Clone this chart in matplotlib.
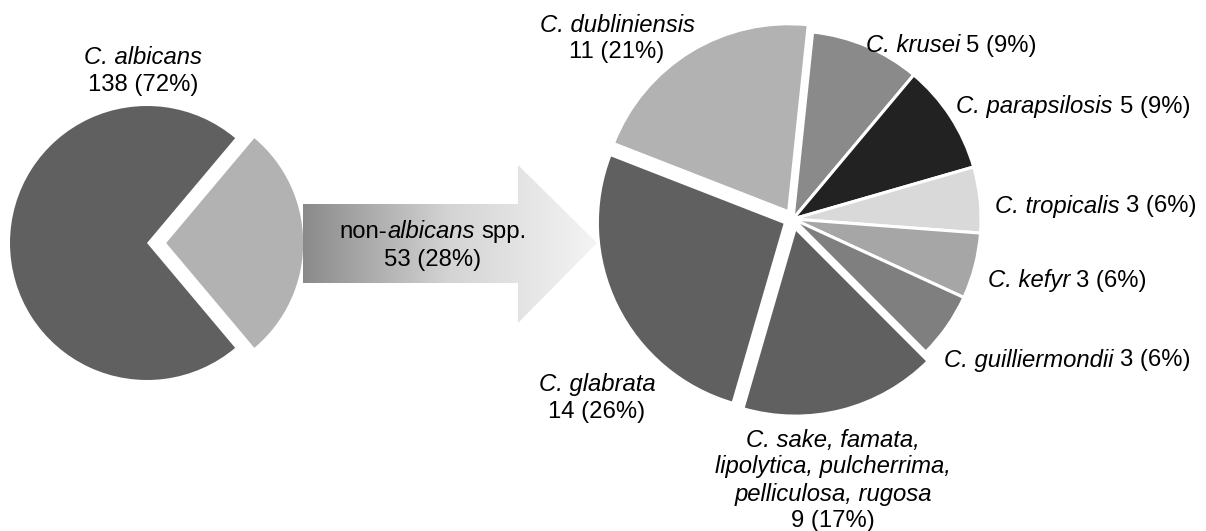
import numpy as np
import matplotlib
matplotlib.use("Agg")
import matplotlib.pyplot as plt
from matplotlib.patches import Polygon
from matplotlib.colors import LinearSegmentedColormap

# ---------------- data ----------------
left_labels = ["C. albicans", "non-albicans spp."]
left_counts = [138, 53]
left_colors = ["#606060", "#b2b2b2"]

right_labels = ["C. krusei", "C. parapsilosis", "C. tropicalis", "C. kefyr",
                "C. guilliermondii",
                "C. sake, famata,|lipolytica, pulcherrima,|pelliculosa, rugosa",
                "C. glabrata", "C. dubliniensis"]
right_counts = [5, 5, 3, 3, 3, 9, 14, 11]
right_colors = ["#8a8a8a", "#222222", "#d9d9d9", "#a6a6a6", "#7f7f7f",
                "#606060", "#606060", "#b2b2b2"]

# ---------------- style ----------------
plt.rcParams['font.family'] = ['Liberation Sans', 'DejaVu Sans']
FS = 17.2
LS = 27  # line step in pixels

W, H = 1206, 531
fig = plt.figure(figsize=(W / 100, H / 100), dpi=100)
ax = fig.add_axes([0, 0, 1, 1])
ax.set_xlim(0, W)
ax.set_ylim(0, H)
renderer = fig.canvas.get_renderer()


def Y(y):
    return H - y


def pct(c, tot):
    return int(round(100 * c / tot))


def width_of(s, italic):
    t = ax.text(0, 0, s, fontsize=FS, fontstyle='italic' if italic else 'normal')
    w = t.get_window_extent(renderer).width
    t.remove()
    return w


SPACE = width_of("n n", False) - width_of("nn", False)


def draw_line(x, y, parts, ha='left', zorder=3):
    """parts: list of (text, italic, space_after)"""
    widths = [width_of(p[0], p[1]) for p in parts]
    total = sum(widths) + SPACE * sum(1 for p in parts[:-1] if p[2])
    if ha == 'center':
        cx = x - total / 2
    elif ha == 'right':
        cx = x - total
    else:
        cx = x
    for (s, itl, sp), w in zip(parts, widths):
        ax.text(cx, Y(y), s, fontsize=FS, ha='left', va='center',
                fontstyle='italic' if itl else 'normal', zorder=zorder)
        cx += w + (SPACE if sp else 0)


# ---------------- left pie ----------------
ltot = sum(left_counts)
ang = 360 * left_counts[1] / ltot
L_R = 137
ax.pie([left_counts[1], left_counts[0]], colors=[left_colors[1], left_colors[0]],
       startangle=-ang / 2, center=(147, Y(243)), radius=L_R,
       explode=[0.14 * L_R, 0], wedgeprops=dict(linewidth=0))

# ---------------- right pie ----------------
rtot = sum(right_counts)
R_R = 188
explode_frac = [0, 0, 0, 0, 0, 0.05, 0.045, 0.045]
ax.pie(right_counts, colors=right_colors, startangle=84, counterclock=False,
       center=(793, Y(219)), radius=R_R, explode=[e * R_R for e in explode_frac],
       wedgeprops=dict(edgecolor='white', linewidth=2.2))

# ---------------- arrow with gradient ----------------
x0, x1, xh = 303, 597, 518
body_t, body_b = 204, 283
head_t, head_b = 165, 323
ymid = 243
verts = [(x0, Y(body_t)), (xh, Y(body_t)), (xh, Y(head_t)), (x1, Y(ymid)),
         (xh, Y(head_b)), (xh, Y(body_b)), (x0, Y(body_b))]
poly = Polygon(verts, closed=True, facecolor='none', edgecolor='none')
ax.add_patch(poly)
grad = np.linspace(0, 1, 256).reshape(1, -1)
cm = LinearSegmentedColormap.from_list('g', ['#8a8a8a', '#d4d4d4', '#f4f4f4'])
im = ax.imshow(grad, cmap=cm, extent=(x0, x1, Y(head_b), Y(head_t)),
               aspect='auto', zorder=1)
im.set_clip_path(poly)

# ---------------- labels ----------------
draw_line(143, 57, [(left_labels[0], True, False)], ha='center')
draw_line(143, 85, [(f"{left_counts[0]} ({pct(left_counts[0], ltot)}%)", False, False)],
          ha='center')
nm = left_labels[1].split(" ")
draw_line(433, 232, [("non-", False, False), (nm[0].replace("non-", ""), True, True),
                     (nm[1], False, False)], ha='center')
draw_line(433, 260, [(f"{left_counts[1]} ({pct(left_counts[1], ltot)}%)", False, False)],
          ha='center')


def lab(i):
    return f"{right_counts[i]} ({pct(right_counts[i], rtot)}%)"


# right-edge anchored single-line labels
single = {0: (1037, 46), 1: (1190, 107), 2: (1197, 206), 3: (1147, 281), 4: (1190, 360)}
for i, (x, y) in single.items():
    draw_line(x, y, [(right_labels[i], True, True), (lab(i), False, False)], ha='right')

multi = {7: (617, 25), 6: (597, 385), 5: (833, 440)}
for i, (x, y) in multi.items():
    lines = right_labels[i].split("|")
    for k, s in enumerate(lines):
        draw_line(x, y + k * LS, [(s, True, False)], ha='center')
    draw_line(x, y + len(lines) * LS, [(lab(i), False, False)], ha='center')

ax.set_xlim(0, W)
ax.set_ylim(0, H)
ax.set_aspect('equal')
ax.axis('off')
fig.savefig("out.png", dpi=100, facecolor='white')
